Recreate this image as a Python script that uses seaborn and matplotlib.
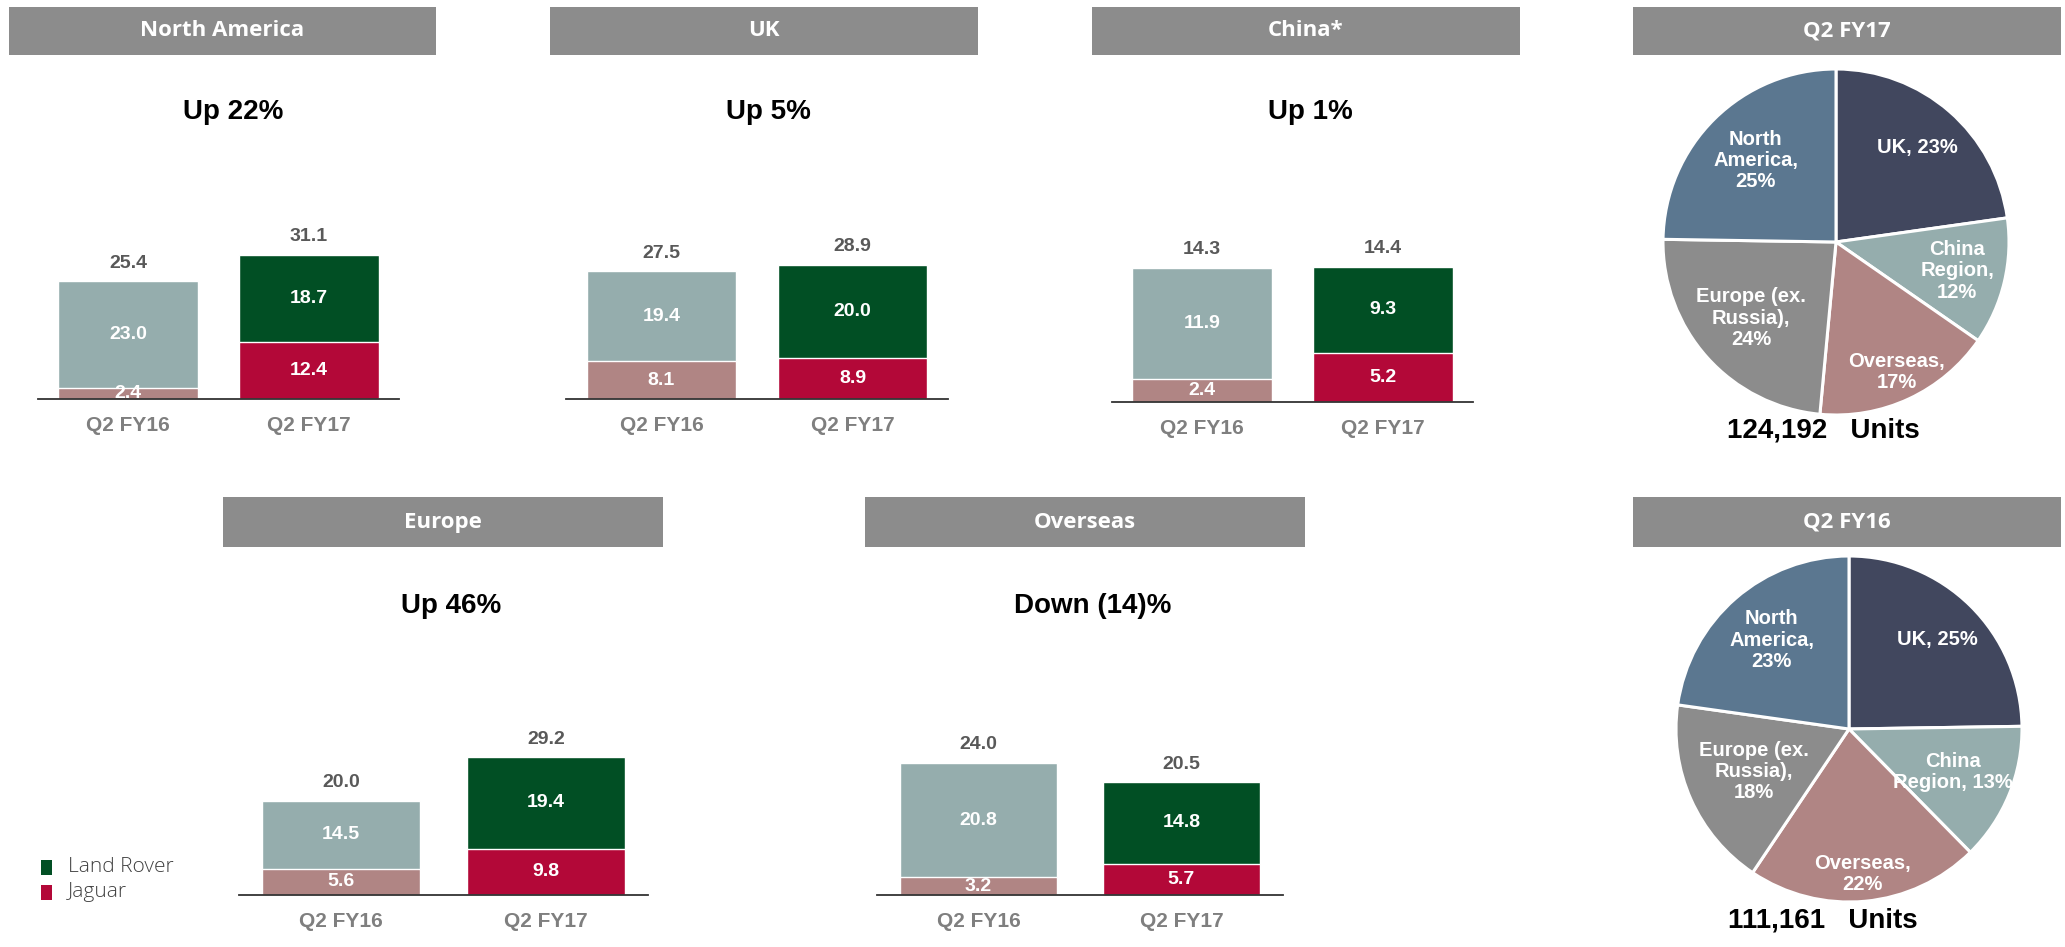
import numpy as np
import pandas as pd
import matplotlib
matplotlib.use("Agg")
import matplotlib.pyplot as plt
import seaborn as sns
from matplotlib.patches import Rectangle

# ---------------- data ----------------
periods = ["Q2 FY16", "Q2 FY17"]

na_total = [25.4, 31.1]
na_land_rover = [23.0, 18.7]
na_jaguar = [2.4, 12.4]

uk_total = [27.5, 28.9]
uk_land_rover = [19.4, 20.0]
uk_jaguar = [8.1, 8.9]

china_total = [14.3, 14.4]
china_land_rover = [11.9, 9.3]
china_jaguar = [2.4, 5.2]

europe_total = [20.0, 29.2]
europe_land_rover = [14.5, 19.4]
europe_jaguar = [5.6, 9.8]

overseas_total = [24.0, 20.5]
overseas_land_rover = [20.8, 14.8]
overseas_jaguar = [3.2, 5.7]

panel_titles = ["North America", "UK", "China*", "Europe", "Overseas"]
growth_labels = ["Up 22%", "Up 5%", "Up 1%", "Up 46%", "Down (14)%"]

pie_regions = ["UK", "China Region", "Overseas", "Europe (ex. Russia)", "North America"]
share_fy17 = [23, 12, 17, 24, 25]
share_fy16 = [25, 13, 22, 18, 23]
label_fmt_fy17 = ["UK, {}%", "China\nRegion,\n{}%", "Overseas,\n{}%", "Europe (ex.\nRussia),\n{}%", "North\nAmerica,\n{}%"]
label_fmt_fy16 = ["UK, {}%", "China\nRegion, {}%", "Overseas,\n{}%", "Europe (ex.\nRussia),\n{}%", "North\nAmerica,\n{}%"]
units_fy17 = "124,192"
units_fy16 = "111,161"

legend_labels = ["Land Rover", "Jaguar"]

# ---------------- style ----------------
W, H = 2065, 947
sns.set_theme(style="white")
plt.rcParams["font.family"] = ["Liberation Sans", "DejaVu Sans"]

LR_COLORS = {"Q2 FY16": "#95ADAD", "Q2 FY17": "#014F24"}
JAG_COLORS = {"Q2 FY16": "#B08584", "Q2 FY17": "#B30838"}
PIE_COLORS = {"UK": "#41475E", "China Region": "#95ADAD", "Overseas": "#B08584",
              "Europe (ex. Russia)": "#8C8C8C", "North America": "#5B7790"}
HEADER_GRAY = "#8C8C8C"

fig = plt.figure(figsize=(W / 100, H / 100), dpi=100)
fig.patch.set_facecolor("white")


def fx(x):
    return x / W


def fy(y):
    return 1 - y / H


def header(x0, x1, y0, y1, text):
    fig.patches.append(Rectangle((fx(x0), fy(y1)), fx(x1) - fx(x0), fy(y0) - fy(y1),
                                 transform=fig.transFigure, facecolor=HEADER_GRAY,
                                 edgecolor="none", zorder=0))
    fig.text(fx((x0 + x1) / 2), fy((y0 + y1) / 2), text, ha="center", va="center",
             color="white", fontsize=16, fontweight="bold",
             family=["Open Sans", "DejaVu Sans"])


# panel layout: (axis left, axis right, axis baseline y, axis top y, px per unit,
#                header box, growth title position)
panels = [
    (na_total, na_land_rover, na_jaguar, 38, 399, 399, 200, 4.63, (9, 436, 7, 55), (233, 112)),
    (uk_total, uk_land_rover, uk_jaguar, 566, 948, 399, 200, 4.65, (550, 978, 7, 55), (768, 112)),
    (china_total, china_land_rover, china_jaguar, 1112, 1473, 402, 200, 9.4, (1092, 1520, 7, 55), (1310, 112)),
    (europe_total, europe_land_rover, europe_jaguar, 239, 648, 895, 695, 4.72, (223, 663, 497, 547), (451, 606)),
    (overseas_total, overseas_land_rover, overseas_jaguar, 877, 1283, 895, 695, 5.5, (865, 1305, 497, 547), (1093, 606)),
]

for (tot, lr, jag, xl, xr, yb, yt, scale, hbox, gpos), title, growth in zip(panels, panel_titles, growth_labels):
    ax = fig.add_axes([fx(xl), fy(yb), fx(xr) - fx(xl), (yb - yt) / H])
    df = pd.DataFrame({"period": periods, "total": tot, "lr": lr, "jag": jag})
    sns.barplot(data=df, x="period", y="total", hue="period", palette=LR_COLORS,
                width=0.775, saturation=1, legend=False, ax=ax, zorder=2)
    sns.barplot(data=df, x="period", y="jag", hue="period", palette=JAG_COLORS,
                width=0.775, saturation=1, legend=False, ax=ax, zorder=2)
    ax.set_xlim(-0.5, 1.5)
    ax.set_ylim(0, (yb - yt) / scale)
    ax.set_xlabel("")
    ax.set_ylabel("")
    ax.set_yticks([])
    for s in ["top", "left", "right"]:
        ax.spines[s].set_visible(False)
    ax.spines["bottom"].set_color("#333333")
    ax.spines["bottom"].set_linewidth(1.3)
    ax.spines["bottom"].set_zorder(3)
    ax.tick_params(axis="x", length=0, pad=12, labelsize=15, labelcolor="#7F7F7F")
    for lbl in ax.get_xticklabels():
        lbl.set_fontweight("bold")
    ax.patch.set_alpha(0)
    for i in range(len(periods)):
        ax.annotate(f"{tot[i]:.1f}", (i, tot[i]), xytext=(0, 13), textcoords="offset points",
                    ha="center", va="center", fontsize=14, fontweight="bold", color="#595959")
        ax.text(i, jag[i] + (tot[i] - jag[i]) / 2, f"{lr[i]:.1f}", ha="center", va="center",
                fontsize=14, fontweight="bold", color="white", zorder=4)
        ax.text(i, jag[i] / 2, f"{jag[i]:.1f}", ha="center", va="center",
                fontsize=14, fontweight="bold", color="white", zorder=4)
    header(*hbox, title)
    fig.text(fx(gpos[0]), fy(gpos[1]), growth, ha="center", va="center",
             fontsize=20, fontweight="bold", color="black")

# ---------------- pies ----------------
pies = [
    (share_fy17, label_fmt_fy17, units_fy17, "Q2 FY17", (1836, 242), (1633, 2061, 7, 55), 430,
     [0.72, 0.72, 0.83, 0.66, 0.66]),
    (share_fy16, label_fmt_fy16, units_fy16, "Q2 FY16", (1849, 729), (1633, 2061, 497, 547), 920,
     [0.73, 0.65, 0.84, 0.60, 0.68]),
]
R = 173
for shares, fmts, units, ptitle, (cx, cy), hbox, uy, dists in pies:
    S = 2.2 * R
    ax = fig.add_axes([fx(cx - S / 2), fy(cy + S / 2), S / W, S / H])
    wedges, _ = ax.pie(shares, colors=[PIE_COLORS[r] for r in pie_regions], startangle=90,
                       counterclock=False,
                       wedgeprops=dict(edgecolor="white", linewidth=2.2))
    ax.set_xlim(-1.1, 1.1)
    ax.set_ylim(-1.1, 1.1)
    ax.set_aspect("equal")
    for w, fmt, s, d in zip(wedges, fmts, shares, dists):
        ang = np.deg2rad((w.theta1 + w.theta2) / 2)
        ax.text(d * np.cos(ang), d * np.sin(ang), fmt.format(s), ha="center", va="center",
                color="white", fontsize=14.5, fontweight="bold", linespacing=1.15)
    header(*hbox, ptitle)
    fig.text(fx(1823), fy(uy), f"{units}   Units", ha="center", va="center",
             fontsize=20, fontweight="bold", color="black")

# ---------------- legend ----------------
for (lbl, col), ly in zip(zip(legend_labels, ["#014F24", "#B30838"]), [867, 892]):
    fig.patches.append(Rectangle((fx(41), fy(ly + 8)), fx(52) - fx(41), 15 / H,
                                 transform=fig.transFigure, facecolor=col, edgecolor="none"))
    fig.text(fx(68), fy(ly), lbl, ha="left", va="center", fontsize=15, color="#404040",
             fontweight="light", family=["Open Sans", "DejaVu Sans"])

fig.savefig("out.png", dpi=100, facecolor="white")
